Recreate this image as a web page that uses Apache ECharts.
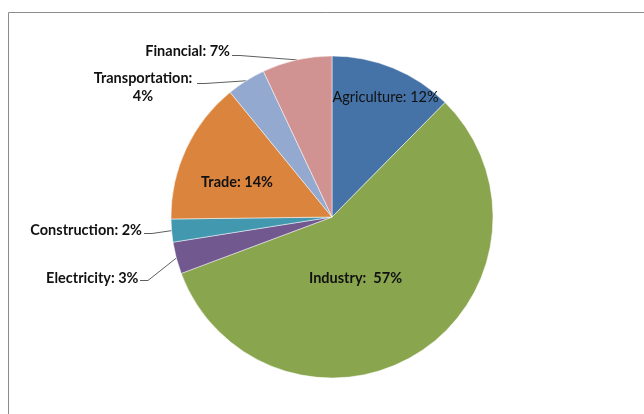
<!DOCTYPE html>
<html>
<head>
<meta charset="utf-8">
<script src="https://cdn.jsdelivr.net/npm/echarts@6/dist/echarts.min.js"></script>
<style>
  html, body { margin: 0; padding: 0; background: #fff; }
  #chart { width: 644px; height: 414px; }
</style>
</head>
<body>
<div id="chart"></div>
<script>
const FONT = 'Lato, "Liberation Sans", sans-serif';

// sectors, clockwise from 12 o'clock
const sectors = ['Agriculture', 'Industry', 'Electricity', 'Construction', 'Trade', 'Transportation', 'Financial'];
const shares = [12.4, 56.9, 3.2, 2.3, 14.3, 3.9, 7.0];
const colors = ['#4572A7', '#89A54E', '#71588F', '#4198AF', '#DB843D', '#93A9CF', '#D19392'];
const insideLabels = ['Agriculture', 'Industry', 'Trade'];

// where each label sits (x, y, align) and where the outside leader lines start
const labelSpots = {
  Agriculture:    { x: 385.5, y: 97,  align: 'center' },
  Industry:       { x: 355.5, y: 278, align: 'center' },
  Trade:          { x: 237,   y: 182, align: 'center' },
  Financial:      { x: 230,   y: 51.5, align: 'right',  line: [232, 55.5] },
  Transportation: { x: 143,   y: 87.5, align: 'center', line: [197, 83.5] },
  Construction:   { x: 142,   y: 230, align: 'right',  line: [144, 233.5] },
  Electricity:    { x: 138.5, y: 278, align: 'right',  line: [140, 280.5] }
};
const separators = { Industry: ':  ', Transportation: ':\n' };

const chart = echarts.init(document.getElementById('chart'), null, { renderer: 'canvas' });

const data = sectors.map((name, i) => {
  const inside = insideLabels.includes(name);
  return {
    name,
    value: shares[i],
    itemStyle: { color: colors[i] },
    label: inside
      ? { position: 'inside', fontWeight: name === 'Agriculture' ? 'normal' : 'bold' }
      : { position: 'outside' },
    labelLine: { show: !inside }
  };
});

chart.setOption({
  animation: false,
  backgroundColor: '#fff',
  graphic: [{
    type: 'rect',
    shape: { x: 8.5, y: 12.5, width: 700, height: 500 },
    style: { fill: 'none', stroke: '#8c8c8c', lineWidth: 1 },
    silent: true
  }],
  series: [{
    type: 'pie',
    center: [332, 217],
    radius: 161,
    startAngle: 90,
    clockwise: true,
    avoidLabelOverlap: false,
    itemStyle: { borderColor: 'rgba(255,255,255,0.7)', borderWidth: 0.7 },
    label: {
      color: '#111',
      fontFamily: FONT,
      fontSize: 14.5,
      fontWeight: 'bold',
      lineHeight: 18,
      formatter: (p) => p.name + (separators[p.name] || ': ') + Math.round(p.percent) + '%'
    },
    labelLine: { lineStyle: { color: '#5f5f5f', width: 1 } },
    labelLayout: (p) => {
      const spot = labelSpots[sectors[p.dataIndex]];
      const out = { x: spot.x, y: spot.y, align: spot.align, verticalAlign: 'middle' };
      if (spot.line && p.labelLinePoints) {
        // short flat tail under the text, then straight to the slice edge
        const edge = p.labelLinePoints[0];
        out.labelLinePoints = [edge, [spot.line[0] + 8, spot.line[1]], spot.line];
      }
      return out;
    },
    emphasis: { disabled: true },
    data
  }]
});
</script>
</body>
</html>
